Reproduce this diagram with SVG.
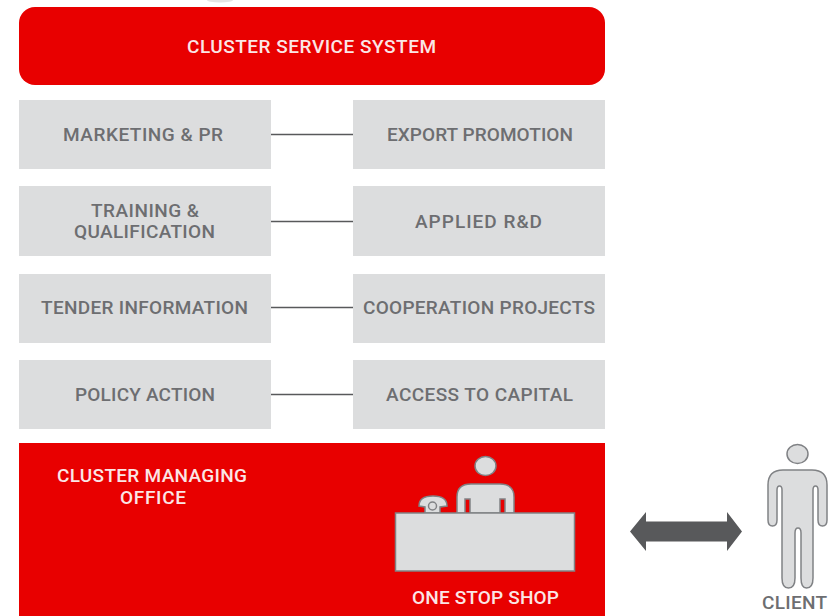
<svg xmlns="http://www.w3.org/2000/svg" width="833" height="616" viewBox="0 0 833 616">
<style>
text{font-family:"Roboto","Liberation Sans",sans-serif;font-weight:500;font-size:19px;text-anchor:middle}
.g{fill:#dcddde}
.d{fill:#6d6e71}
.w{fill:#fbe6e6}
.c{stroke:#58595b;stroke-width:1.5;fill:none}
.i{fill:#dcddde;stroke:#808285;stroke-width:1.5}
</style>
<rect width="833" height="616" fill="#fff"/>
<ellipse cx="220" cy="0" rx="13" ry="2.500" fill="#e4e4e4"/>
<g id="connectors">
<path class="c" d="M271 134.500H353M271 221.500H353M271 307.500H353M271 394.500H353"/>
<path id="double-arrow" fill="#58595b" d="M630 531.500L646 512V521.500H727V512L742 531.500L727 551V541.500H646V551Z"/>
</g>
<g id="cluster-service-system"><rect x="19" y="7" width="586" height="78" rx="16" fill="#e80000"/><text class="w" x="311.500" y="53" textLength="249">CLUSTER SERVICE SYSTEM</text></g>
<g id="marketing"><rect class="g" x="19" y="100" width="252" height="69"/><text class="d" x="143" y="141" textLength="160">MARKETING &amp; PR</text></g>
<g id="export"><rect class="g" x="353" y="100" width="252" height="69"/><text class="d" x="480" y="141" textLength="186">EXPORT PROMOTION</text></g>
<g id="training"><rect class="g" x="19" y="186" width="252" height="70"/><text class="d" x="145" y="217" textLength="108">TRAINING &amp;</text><text class="d" x="144.500" y="238" textLength="141">QUALIFICATION</text></g>
<g id="applied"><rect class="g" x="353" y="186" width="252" height="70"/><text class="d" x="478.500" y="228" textLength="127">APPLIED R&amp;D</text></g>
<g id="tender"><rect class="g" x="19" y="274" width="252" height="69"/><text class="d" x="144.500" y="314" textLength="207">TENDER INFORMATION</text></g>
<g id="cooperation"><rect class="g" x="353" y="274" width="252" height="69"/><text class="d" x="479" y="314" textLength="232">COOPERATION PROJECTS</text></g>
<g id="policy"><rect class="g" x="19" y="360" width="252" height="69"/><text class="d" x="145" y="401" textLength="140">POLICY ACTION</text></g>
<g id="access"><rect class="g" x="353" y="360" width="252" height="69"/><text class="d" x="479.500" y="401" textLength="187">ACCESS TO CAPITAL</text></g>
<g id="cluster-managing-office">
<rect x="19" y="443" width="586" height="173" fill="#e80000"/>
<text class="w" x="152" y="482" textLength="190">CLUSTER MANAGING</text><text class="w" x="153" y="504" textLength="66">OFFICE</text>
<ellipse class="i" cx="485.500" cy="466" rx="10.500" ry="9.500"/>
<path class="i" d="M457 513V497Q457 484 471 484H500Q514 484 514 497V513H505V499H500V513H470V499H465V513Z"/>
<path class="i" d="M419 506Q419 496 433 496Q447 496 447 506L440 507V513H425V507Z"/>
<circle cx="432.500" cy="506" r="4" fill="#dcddde" stroke="#808285" stroke-width="1.500"/>
<rect class="i" x="395.500" y="513" width="179" height="58"/>
<text class="w" x="485.500" y="604" textLength="147">ONE STOP SHOP</text>
</g>
<g id="client">
<ellipse class="i" cx="797.500" cy="454" rx="10.500" ry="9.500"/>
<path class="i" d="M783 470H812Q827 470 827 485V520Q827 526 822.500 526Q818 526 818 520V490Q818 486 815.500 486Q813 486 813 490V578Q813 588 806.500 588Q801 588 801 578V533Q801 528 798 528Q795 528 795 533V578Q795 588 788.500 588Q782 588 782 578V490Q782 486 779.500 486Q777 486 777 490V520Q777 526 772.500 526Q768 526 768 520V485Q768 470 783 470Z"/>
<text class="d" x="794.500" y="609" textLength="65">CLIENT</text>
</g>
</svg>
